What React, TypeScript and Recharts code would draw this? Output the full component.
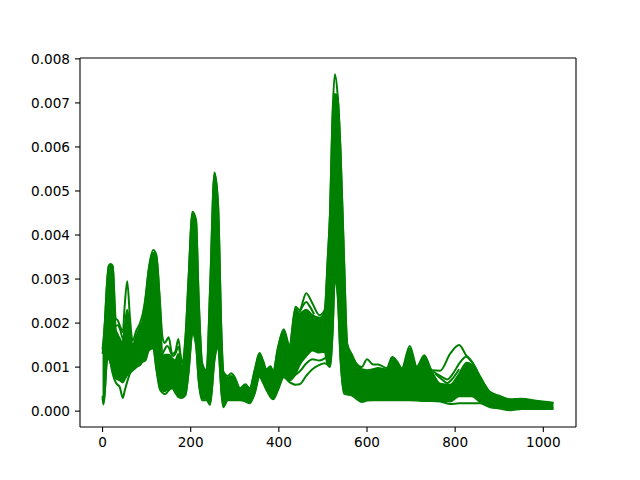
import React from "react";
import { Area, ComposedChart, Line, ReferenceLine, XAxis, YAxis } from "recharts";

const GREEN = "#008000";

const xDomain = [-51.15, 1074.15];
const yDomain = [-0.00036, 0.00802];
const xTicks = [0, 200, 400, 600, 800, 1000];
const yTicks = [0, 0.001, 0.002, 0.003, 0.004, 0.005, 0.006, 0.007, 0.008];

// channel positions the curves were read at
const sampleX = [
  0, 2, 5, 10, 14, 18, 23, 30, 34, 39, 46, 50, 56, 62, 68, 77, 85, 91, 97, 105,
  115, 122, 130, 136, 141, 146, 150, 158, 165, 172, 180, 188, 195, 204, 212, 218,
  226, 236, 244, 254, 262, 270, 274, 284, 292, 300, 312, 324, 334, 345, 356, 364,
  372, 381, 387, 398, 411, 424, 438, 447, 462, 476, 492, 504, 511, 516, 522, 527,
  533, 540, 548, 555, 565, 576, 588, 600, 614, 625, 645, 657, 669, 679, 697, 713,
  730, 747, 766, 789, 809, 826, 838, 857, 879, 900, 925, 951, 980, 1023,
];

// highest single curve
const topCurve = [
  0.0014, 0.0016, 0.002, 0.0029, 0.0033, 0.00334, 0.0033, 0.0021, 0.00207, 0.00195,
  0.0018, 0.00236, 0.00295, 0.00215, 0.0016, 0.00184, 0.002, 0.0022, 0.00255, 0.00325,
  0.00366, 0.00355, 0.00252, 0.00168, 0.00155, 0.00162, 0.00168, 0.0013, 0.00135, 0.00164,
  0.00109, 0.00168, 0.003, 0.00453, 0.00435, 0.0026, 0.00109, 0.00092, 0.0028, 0.00542,
  0.00472, 0.00168, 0.0009, 0.0008, 0.00086, 0.00077, 0.00052, 0.00061, 0.00052, 0.00093,
  0.00132, 0.00115, 0.00095, 0.00102, 0.0009, 0.00145, 0.00186, 0.0015, 0.00237, 0.0023,
  0.00268, 0.00245, 0.00218, 0.0023, 0.0035, 0.0045, 0.0068, 0.00765, 0.00722, 0.0059,
  0.00343, 0.00154, 0.0013, 0.00108, 0.001, 0.00118, 0.00106, 0.00106, 0.00098, 0.00123,
  0.00112, 0.00097, 0.00148, 0.00101, 0.00127, 0.00093, 0.00092, 0.00131, 0.0015, 0.00125,
  0.00112, 0.00078, 0.00044, 0.00035, 0.00027, 0.00028, 0.00024, 0.00019,
];

// lowest single curve
const bottomCurve = [
  0.0003, 0.00015, 0.0004, 0.00115, 0.0012, 0.0011, 0.00085, 0.00065, 0.0006, 0.00055,
  0.0003, 0.00045, 0.00067, 0.00085, 0.00092, 0.001, 0.00105, 0.00112, 0.00115, 0.00138,
  0.00143, 0.00095, 0.0005, 0.00042, 0.00039, 0.00042, 0.00047, 0.00052, 0.00042, 0.00032,
  0.0003, 0.00036, 0.00086, 0.00177, 0.0015, 0.0007, 0.00025, 0.00025, 0.00014, 0.00116,
  0.00146, 0.0004, 0.00009, 0.00025, 0.00025, 0.00025, 0.00025, 0.00022, 0.00018, 0.0004,
  0.00078, 0.00065, 0.00048, 0.00032, 0.00027, 0.00048, 0.00077, 0.00066, 0.0006, 0.00061,
  0.0008, 0.00095, 0.00105, 0.00109, 0.00105, 0.001, 0.0018, 0.003, 0.00268, 0.00116,
  0.0004, 0.00038, 0.00036, 0.00028, 0.00021, 0.00024, 0.00025, 0.00025, 0.00025, 0.00025,
  0.00025, 0.00025, 0.00025, 0.00024, 0.00023, 0.00023, 0.00022, 0.00016, 0.00018, 0.00018,
  0.00018, 0.00018, 0.00009, 0.00006, 0.00002, 0.00005, 0.00005, 0.00005,
];

// upper edge of the solid bundle of curves
const bundleHigh = [
  0.0013, 0.0015, 0.00195, 0.00285, 0.00328, 0.00332, 0.00328, 0.00185, 0.00175, 0.00165,
  0.00155, 0.0019, 0.0023, 0.00185, 0.0015, 0.00172, 0.00192, 0.00205, 0.0025, 0.0032,
  0.0036, 0.0035, 0.00245, 0.00125, 0.00128, 0.00128, 0.00128, 0.0012, 0.00115, 0.0013,
  0.001, 0.0016, 0.00295, 0.00448, 0.00432, 0.00255, 0.00105, 0.00088, 0.00275, 0.00538,
  0.00468, 0.00165, 0.00085, 0.00075, 0.0008, 0.00072, 0.0005, 0.00058, 0.0005, 0.0009,
  0.0013, 0.00112, 0.00092, 0.001, 0.00088, 0.00142, 0.00182, 0.00145, 0.00233, 0.00222,
  0.0023, 0.00218, 0.00212, 0.00225, 0.00345, 0.00445, 0.0067, 0.0072, 0.00715, 0.00585,
  0.00338, 0.0015, 0.00128, 0.00105, 0.00095, 0.00093, 0.00095, 0.00098, 0.00095, 0.0012,
  0.00108, 0.00095, 0.00142, 0.00098, 0.00124, 0.0009, 0.00062, 0.0006, 0.00085, 0.0011,
  0.00105, 0.00075, 0.00042, 0.00033, 0.00026, 0.00027, 0.00023, 0.00018,
];

// lower edge of the solid bundle of curves
const bundleLow = [
  0.00035, 0.0002, 0.00045, 0.00115, 0.0012, 0.0011, 0.0009, 0.00075, 0.00072, 0.0007,
  0.00065, 0.00072, 0.00082, 0.0009, 0.00095, 0.00102, 0.00108, 0.00114, 0.00118, 0.0014,
  0.00145, 0.001, 0.00055, 0.00047, 0.00045, 0.00048, 0.0005, 0.00055, 0.00045, 0.00035,
  0.00033, 0.00038, 0.0009, 0.0018, 0.00155, 0.00072, 0.00028, 0.00028, 0.00018, 0.0012,
  0.0015, 0.00042, 0.00012, 0.00027, 0.00027, 0.00027, 0.00027, 0.00024, 0.0002, 0.00042,
  0.0008, 0.00067, 0.0005, 0.00034, 0.0003, 0.0005, 0.0008, 0.0007, 0.00085, 0.00105,
  0.00125, 0.00138, 0.00133, 0.00135, 0.00105, 0.00105, 0.00185, 0.00305, 0.00275, 0.0012,
  0.00045, 0.00042, 0.00038, 0.0003, 0.00023, 0.00026, 0.00027, 0.00027, 0.00027, 0.00027,
  0.00027, 0.00027, 0.00027, 0.00026, 0.00025, 0.00025, 0.00024, 0.00022, 0.00034, 0.00034,
  0.00034, 0.0002, 0.00011, 0.00008, 0.00004, 0.00007, 0.00007, 0.00007,
];

// single curves that stand apart from the bundle for a stretch
const bumpLeftX = [28, 34, 39, 44, 48];
const bumpLeftY = [0.00192, 0.00195, 0.00188, 0.0017, 0.0016];
const twinHumpX = [136, 141, 146, 150, 156, 160, 165, 172, 178, 184];
const twinHumpY = [0.0013, 0.0014, 0.00148, 0.00145, 0.0013, 0.00125, 0.0013, 0.00146, 0.0012, 0.00105];
const upperLoopX = [447, 455, 462, 470, 480];
const upperLoopY = [0.00225, 0.0024, 0.00248, 0.00238, 0.0022];
const lowerLoopX = [415, 424, 438, 447, 462, 476, 492, 504, 510];
const lowerLoopY = [0.0008, 0.00072, 0.00083, 0.0009, 0.00108, 0.00118, 0.00115, 0.0012, 0.00125];
const shoulderX = [750, 766, 782, 795, 809, 826, 838, 850];
const shoulderY = [0.0009, 0.0008, 0.00072, 0.00085, 0.00108, 0.00124, 0.00112, 0.0009];
const shoulderLowX = [755, 770, 782, 795, 809];
const shoulderLowY = [0.00085, 0.00072, 0.00064, 0.00075, 0.00095];

const chartRows = sampleX.map((x, i) => ({
  x,
  top: topCurve[i],
  bottom: bottomCurve[i],
  bundle: [bundleLow[i], bundleHigh[i]],
}));

const toPoints = (xs: number[], ys: number[]) => xs.map((x, i) => ({ x, y: ys[i] }));

const extraCurves = [
  toPoints(bumpLeftX, bumpLeftY),
  toPoints(twinHumpX, twinHumpY),
  toPoints(upperLoopX, upperLoopY),
  toPoints(lowerLoopX, lowerLoopY),
  toPoints(shoulderX, shoulderY),
  toPoints(shoulderLowX, shoulderLowY),
];

const tickStyle = { fontSize: 13.6, fontFamily: "DejaVu Sans", fill: "#000" };
const axisLine = { stroke: "#000", strokeWidth: 1.1 };
const tickLine = { stroke: "#000", strokeWidth: 1.1 };

export default function App() {
  return (
    <div style={{ position: "absolute", left: 0, top: 0, width: 640, height: 480, background: "#fff" }}>
      <ComposedChart
        width={640}
        height={480}
        data={chartRows}
        margin={{ top: 58, right: 64, bottom: 0, left: 0 }}
      >
        <XAxis
          dataKey="x"
          type="number"
          domain={xDomain}
          ticks={xTicks}
          height={53}
          tickSize={5}
          tickMargin={5}
          tick={tickStyle}
          axisLine={axisLine}
          tickLine={tickLine}
          interval={0}
        />
        <YAxis
          type="number"
          domain={yDomain}
          ticks={yTicks}
          width={80}
          tickSize={5}
          tickMargin={5}
          tick={tickStyle}
          axisLine={axisLine}
          tickLine={tickLine}
          interval={0}
          tickFormatter={(v: number) => v.toFixed(3)}
        />
        <Area
          dataKey="bundle"
          type="monotone"
          fill={GREEN}
          fillOpacity={1}
          stroke={GREEN}
          strokeWidth={2}
          dot={false}
          activeDot={false}
          isAnimationActive={false}
        />
        <Line dataKey="top" type="monotone" stroke={GREEN} strokeWidth={2} dot={false} isAnimationActive={false} />
        <Line dataKey="bottom" type="monotone" stroke={GREEN} strokeWidth={2} dot={false} isAnimationActive={false} />
        {extraCurves.map((points, i) => (
          <Line
            key={i}
            data={points}
            dataKey="y"
            type="monotone"
            stroke={GREEN}
            strokeWidth={2}
            dot={false}
            isAnimationActive={false}
          />
        ))}
        {/* top and right edges of the frame */}
        <ReferenceLine y={yDomain[1]} stroke="#000" strokeWidth={1.1} />
        <ReferenceLine x={xDomain[1]} stroke="#000" strokeWidth={1.1} />
      </ComposedChart>
    </div>
  );
}
